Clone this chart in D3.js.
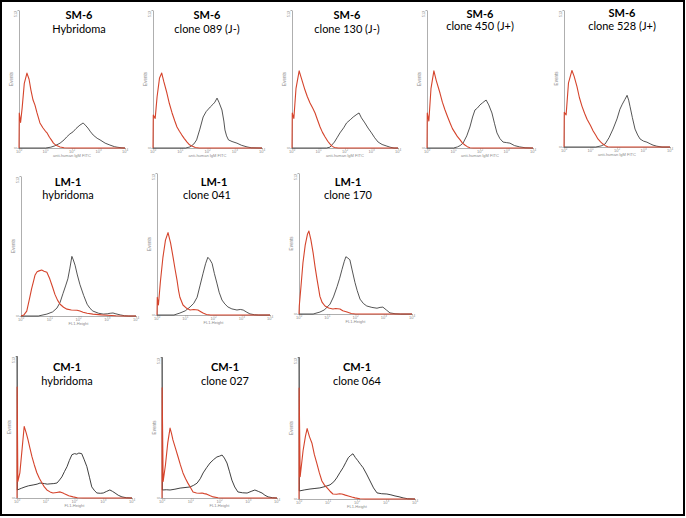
<!DOCTYPE html>
<html>
<head>
<meta charset="utf-8">
<script src="https://cdn.jsdelivr.net/npm/d3@7"></script>
<style>
  html, body { margin: 0; padding: 0; background: #fff; }
  svg { display: block; }
</style>
</head>
<body>
<script>
// ---------------- DATA ----------------
const titleTop = ["SM-6","SM-6","SM-6","SM-6","SM-6","LM-1","LM-1","LM-1","CM-1","CM-1","CM-1"];
const titleSub = ["Hybridoma","clone 089 (J-)","clone 130 (J-)","clone 450 (J+)","clone 528 (J+)",
                  "hybridoma","clone 041","clone 170","hybridoma","clone 027","clone 064"];
const xAxisTitles = ["anti-human IgM FITC","anti-human IgM FITC","anti-human IgM FITC","anti-human IgM FITC","anti-human IgM FITC",
                     "FL1-Height","FL1-Height","FL1-Height","FL1-Height","FL1-Height","FL1-Height"];
const yAxisTitle = "Events";
const decades = [0, 1, 2, 3, 4];      // x ticks: 10^0 .. 10^4
const yTicks = [0, 512];               // event count range

// Histograms: [log10 fluorescence, events]
const red1 = [[0,0],[0.01,130],[0.06,95],[0.12,150],[0.2,240],[0.3,278],[0.38,255],[0.45,215],[0.53,178],[0.6,160],[0.68,130],[0.79,93],[0.9,75],[1.0,62],[1.06,56],[1.15,40],[1.22,30],[1.3,18],[1.4,10],[1.55,4],[1.7,1],[2,0],[4,0]];
const black1 = [[0,0],[1.0,0],[1.2,3],[1.35,8],[1.55,18],[1.7,30],[1.8,41],[1.92,52],[2.04,60],[2.15,72],[2.3,85],[2.38,90],[2.42,93],[2.5,85],[2.6,74],[2.7,60],[2.8,48],[2.95,36],[3.06,30],[3.25,18],[3.43,11],[3.6,5],[3.7,3],[3.85,1],[4,0]];
const red2 = [[0,0],[0.01,122],[0.08,110],[0.15,190],[0.24,260],[0.32,278],[0.4,245],[0.51,204],[0.6,165],[0.7,130],[0.8,100],[0.88,78],[0.97,62],[1.06,48],[1.15,35],[1.25,22],[1.34,12],[1.43,7],[1.55,2],[1.7,0],[4,0]];
const black2 = [[0,0],[1.2,0],[1.36,4],[1.5,15],[1.6,30],[1.72,70],[1.84,115],[1.95,135],[2.1,152],[2.2,162],[2.27,170],[2.35,185],[2.42,170],[2.53,141],[2.6,100],[2.64,67],[2.7,45],[2.77,30],[2.9,24],[3.08,18],[3.25,10],[3.45,4],[3.6,1],[4,0]];
const red3 = [[0,0],[0.01,130],[0.07,110],[0.15,220],[0.27,286],[0.35,260],[0.49,215],[0.58,190],[0.68,167],[0.78,148],[0.87,130],[0.96,105],[1.06,78],[1.15,58],[1.25,41],[1.35,25],[1.43,15],[1.52,6],[1.6,2],[1.75,0],[4,0]];
const black3 = [[0,0],[1.3,0],[1.43,3],[1.6,22],[1.7,38],[1.81,56],[1.95,75],[2.06,93],[2.2,105],[2.31,115],[2.45,125],[2.53,130],[2.62,112],[2.75,93],[2.87,74],[3.0,56],[3.12,38],[3.25,22],[3.4,13],[3.58,7],[3.7,3],[3.85,0],[4,0]];
const red4 = [[0,0],[0.01,130],[0.07,100],[0.15,220],[0.26,286],[0.35,250],[0.49,204],[0.58,170],[0.68,141],[0.78,115],[0.87,93],[0.96,72],[1.06,56],[1.15,42],[1.25,30],[1.34,18],[1.43,11],[1.52,5],[1.62,1],[1.75,0],[4,0]];
const black4 = [[0,0],[1.0,0],[1.15,4],[1.25,9],[1.36,18],[1.5,45],[1.62,78],[1.72,115],[1.81,141],[1.9,148],[2.0,160],[2.1,168],[2.23,178],[2.33,160],[2.45,130],[2.55,90],[2.64,56],[2.75,35],[2.87,22],[3.0,20],[3.13,18],[3.3,9],[3.5,4],[3.7,1],[4,0]];
const red5 = [[0,0],[0.01,130],[0.08,120],[0.17,240],[0.3,286],[0.38,265],[0.49,226],[0.58,185],[0.68,152],[0.78,125],[0.87,104],[1.0,80],[1.1,60],[1.2,44],[1.28,30],[1.38,19],[1.47,11],[1.56,5],[1.65,1],[1.8,0],[4,0]];
const black5 = [[0,0],[1.2,0],[1.4,4],[1.55,11],[1.7,35],[1.85,67],[2.0,105],[2.11,141],[2.2,160],[2.3,178],[2.38,193],[2.44,175],[2.49,152],[2.58,110],[2.68,67],[2.78,45],[2.87,30],[3.0,22],[3.13,18],[3.25,12],[3.36,7],[3.5,3],[3.7,0],[4,0]];
const red6 = [[0,0],[0.1,4],[0.2,18],[0.3,65],[0.37,100],[0.43,125],[0.49,150],[0.56,162],[0.63,165],[0.72,168],[0.8,164],[0.9,160],[1.0,136],[1.1,105],[1.18,79],[1.27,58],[1.36,43],[1.48,32],[1.6,25],[1.75,22],[1.95,21],[2.05,18],[2.16,14],[2.3,10],[2.5,7],[2.8,4],[3.0,3],[3.3,1],[3.6,0],[4,0]];
const black6 = [[0,0],[0.6,0],[0.9,7],[1.1,15],[1.25,29],[1.36,50],[1.46,82],[1.55,110],[1.63,136],[1.7,175],[1.77,218],[1.82,205],[1.88,186],[1.96,150],[2.05,115],[2.18,75],[2.3,43],[2.4,28],[2.5,18],[2.7,10],[2.86,7],[3.0,8],[3.1,10],[3.2,11],[3.3,8],[3.45,4],[3.6,1],[3.75,0],[4,0]];
const red7 = [[0,0],[0.01,64],[0.05,36],[0.12,120],[0.21,208],[0.3,270],[0.39,297],[0.48,260],[0.57,208],[0.64,165],[0.71,125],[0.76,90],[0.81,64],[0.92,36],[1.05,24],[1.17,18],[1.3,20],[1.45,18],[1.55,12],[1.63,7],[1.75,2],[1.9,0],[4,0]];
const black7 = [[0,0],[0.6,0],[0.81,7],[1.0,15],[1.17,29],[1.3,42],[1.42,64],[1.52,105],[1.63,150],[1.72,185],[1.8,208],[1.87,200],[1.95,186],[2.03,150],[2.12,115],[2.2,82],[2.3,54],[2.4,40],[2.51,29],[2.65,22],[2.83,18],[2.95,20],[3.05,18],[3.18,10],[3.29,4],[3.45,1],[3.6,0],[4,0]];
const red8 = [[0,0],[0.01,29],[0.07,100],[0.14,186],[0.22,250],[0.3,290],[0.35,301],[0.42,270],[0.5,222],[0.57,170],[0.64,125],[0.69,95],[0.74,64],[0.82,42],[0.92,29],[1.05,22],[1.2,18],[1.3,20],[1.45,18],[1.55,12],[1.7,7],[1.85,2],[2.0,0],[4,0]];
const black8 = [[0,0],[0.5,0],[0.74,7],[0.9,15],[1.1,36],[1.22,62],[1.35,100],[1.44,130],[1.52,161],[1.6,190],[1.66,208],[1.73,203],[1.8,197],[1.88,160],[1.98,115],[2.06,85],[2.16,54],[2.28,38],[2.4,29],[2.58,24],[2.76,21],[2.87,24],[2.97,25],[3.1,14],[3.22,4],[3.4,1],[3.6,0],[4,0]];
const red9 = [[0,0],[0.005,400],[0.03,60],[0.1,91],[0.18,180],[0.25,258],[0.32,235],[0.38,211],[0.45,180],[0.52,149],[0.6,120],[0.69,91],[0.78,70],[0.87,54],[0.95,40],[1.04,29],[1.15,22],[1.25,18],[1.38,20],[1.5,22],[1.6,18],[1.67,14],[1.8,8],[1.95,4],[2.1,1],[2.3,0],[4,0]];
const black9 = [[0,512],[0.01,29],[0.15,35],[0.28,40],[0.4,44],[0.56,47],[0.7,50],[0.8,54],[0.95,52],[1.05,50],[1.15,51],[1.28,52],[1.39,54],[1.48,65],[1.56,76],[1.65,95],[1.74,113],[1.82,135],[1.91,156],[2.0,160],[2.08,158],[2.15,162],[2.25,160],[2.33,140],[2.43,113],[2.52,75],[2.6,40],[2.7,26],[2.78,18],[2.9,17],[3.0,18],[3.12,24],[3.23,29],[3.32,24],[3.41,18],[3.52,10],[3.65,4],[3.8,1],[4,0]];
const red10 = [[0,0],[0.005,400],[0.04,60],[0.12,120],[0.2,200],[0.28,254],[0.33,235],[0.38,211],[0.47,180],[0.56,149],[0.64,120],[0.73,91],[0.82,70],[0.9,54],[1.0,36],[1.08,22],[1.2,18],[1.3,17],[1.39,18],[1.47,16],[1.56,14],[1.68,8],[1.78,4],[1.95,1],[2.1,0],[4,0]];
const black10 = [[0,512],[0.01,29],[0.15,30],[0.28,29],[0.45,32],[0.63,36],[0.8,38],[0.97,40],[1.1,46],[1.22,54],[1.33,70],[1.43,91],[1.55,110],[1.67,127],[1.8,140],[1.91,149],[2.0,152],[2.09,156],[2.17,145],[2.26,127],[2.35,95],[2.43,65],[2.53,40],[2.64,22],[2.8,19],[2.96,18],[3.1,24],[3.23,29],[3.35,24],[3.48,18],[3.58,10],[3.69,4],[3.85,1],[4,0]];
const red11 = [[0,0],[0.005,400],[0.04,80],[0.14,174],[0.22,225],[0.28,254],[0.36,225],[0.45,200],[0.53,160],[0.62,127],[0.7,95],[0.79,65],[0.88,50],[0.97,40],[1.07,28],[1.17,18],[1.3,17],[1.4,19],[1.48,18],[1.6,14],[1.7,11],[1.82,7],[1.93,4],[2.1,1],[2.3,0],[4,0]];
const black11 = [[0,512],[0.01,29],[0.2,33],[0.38,36],[0.55,38],[0.72,40],[0.9,45],[1.07,51],[1.2,62],[1.3,76],[1.41,95],[1.52,113],[1.61,131],[1.7,149],[1.78,157],[1.86,163],[1.94,150],[2.03,138],[2.12,125],[2.21,113],[2.33,90],[2.45,65],[2.57,40],[2.69,22],[2.85,19],[3.03,18],[3.17,15],[3.31,11],[3.45,8],[3.59,4],[3.75,1],[4,0]];

const redSeries = [red1,red2,red3,red4,red5,red6,red7,red8,red9,red10,red11];
const blackSeries = [black1,black2,black3,black4,black5,black6,black7,black8,black9,black10,black11];

// ---------------- LAYOUT ----------------
const layout = [
  {l:19,  r:125, b:148, t:10,  cx:79,  y1:19,  y2:32.7},
  {l:153, r:262, b:148, t:10,  cx:207, y1:19.3,y2:32.7},
  {l:292, r:398, b:148, t:10,  cx:347, y1:19,  y2:32.7},
  {l:427, r:533, b:148, t:10,  cx:480, y1:17.7,y2:30},
  {l:564, r:670, b:147, t:10,  cx:622, y1:17.3,y2:29.5},
  {l:21,  r:136, b:316, t:176, cx:68,  y1:185.5,y2:199.3},
  {l:157, r:270, b:315, t:173, cx:210, y1:185.5,y2:199, cx1:214, cx2:207},
  {l:299, r:412, b:314, t:173, cx:348, y1:185.5,y2:199.3},
  {l:17,  r:132, b:498, t:356, cx:67,  y1:370.5,y2:384.5},
  {l:162, r:277, b:498, t:357, cx:225, y1:370.5,y2:385},
  {l:299, r:415, b:499, t:357, cx:357, y1:370.5,y2:385}
];

const W = 686, H = 518;
const svg = d3.select("body").append("svg").attr("width", W).attr("height", H);
svg.append("rect").attr("width", W).attr("height", H).attr("fill", "#fff");

const RED = "#d5442c", BLK = "#2a2a2a", AX = "#9a9a9a", LBL = "#8a8a8a";

layout.forEach((p, i) => {
  const g = svg.append("g");
  const x = d3.scaleLog().domain([1, 1e4]).range([p.l, p.r]);
  const y = d3.scaleLinear().domain([yTicks[0], yTicks[1]]).range([p.b, p.t]);

  const xa = g.append("g").attr("transform", `translate(0,${p.b})`)
    .call(d3.axisBottom(x).tickValues(decades.map(d => Math.pow(10, d))).tickSize(1.5).tickSizeOuter(0).tickFormat(() => ""));
  xa.selectAll("path,line").attr("stroke", AX).attr("stroke-width", 0.8);
  const ya = g.append("g").attr("transform", `translate(${p.l},0)`)
    .call(d3.axisLeft(y).tickValues(yTicks).tickSize(1.5).tickSizeOuter(0).tickFormat(() => ""));
  ya.selectAll("path,line").attr("stroke", AX).attr("stroke-width", 0.8);

  decades.forEach(d => {
    const t = g.append("text").attr("x", x(Math.pow(10, d))).attr("y", p.b + 4.5)
      .attr("text-anchor", "middle").attr("font-family", "Liberation Sans, Arial, sans-serif")
      .attr("font-size", 4).attr("fill", LBL);
    t.append("tspan").text("10");
    t.append("tspan").attr("font-size", 3).attr("dy", -1.2).text(d);
  });
  g.append("text").attr("x", (p.l + p.r) / 2).attr("y", p.b + 8.5)
    .attr("text-anchor", "middle").attr("font-family", "Liberation Sans, Arial, sans-serif")
    .attr("font-size", 4).attr("fill", LBL).text(xAxisTitles[i]);

  g.append("text").attr("transform", `translate(${p.l - 2},${y(yTicks[1]) + 4}) rotate(-90)`)
    .attr("text-anchor", "middle").attr("font-family", "Liberation Sans, Arial, sans-serif")
    .attr("font-size", 4).attr("fill", LBL).text(yTicks[1]);
  g.append("text").attr("transform", `translate(${p.l - 2},${y(yTicks[0])}) rotate(-90)`)
    .attr("text-anchor", "middle").attr("font-family", "Liberation Sans, Arial, sans-serif")
    .attr("font-size", 4).attr("fill", LBL).text(yTicks[0]);
  g.append("text").attr("transform", `translate(${p.l - 6},${(p.t + p.b) / 2}) rotate(-90)`)
    .attr("text-anchor", "middle").attr("font-family", "Liberation Sans, Arial, sans-serif")
    .attr("font-size", 4.5).attr("fill", LBL).text(yAxisTitle);

  const line = d3.line()
    .x(d => x(Math.pow(10, d[0])))
    .y(d => y(Math.min(d[1], yTicks[1])));

  g.append("path").datum(blackSeries[i]).attr("d", line)
    .attr("fill", "none").attr("stroke", BLK).attr("stroke-width", i >= 8 ? 0.9 : 0.8)
    .attr("stroke-linejoin", "round");
  g.append("path").datum(redSeries[i]).attr("d", line)
    .attr("fill", "none").attr("stroke", RED).attr("stroke-width", 1.1)
    .attr("stroke-linejoin", "round");

  g.append("text").attr("x", p.cx1 || p.cx).attr("y", p.y1).attr("text-anchor", "middle")
    .attr("font-family", "Lato, 'Open Sans', sans-serif").attr("font-weight", "bold")
    .attr("font-size", 11).attr("fill", "#000").text(titleTop[i]);
  g.append("text").attr("x", p.cx2 || p.cx).attr("y", p.y2).attr("text-anchor", "middle")
    .attr("font-family", "Lato, 'Open Sans', sans-serif")
    .attr("font-size", 11).attr("fill", "#000").text(titleSub[i]);
});

svg.append("rect").attr("x", 1).attr("y", 1).attr("width", 683).attr("height", 514)
  .attr("fill", "none").attr("stroke", "#000").attr("stroke-width", 2);
</script>
</body>
</html>
